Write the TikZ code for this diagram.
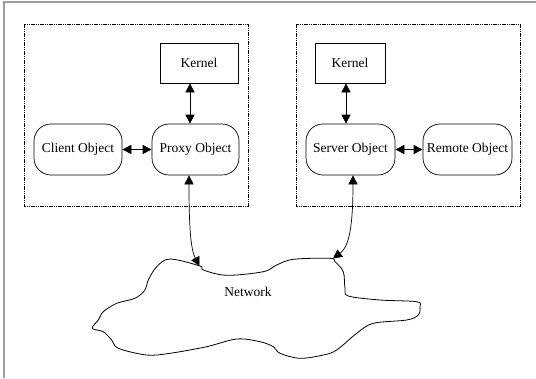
\documentclass[tikz,border=0pt]{standalone}
\usepackage{fontspec}
\setmainfont{Liberation Serif}
\usetikzlibrary{arrows.meta}
\begin{document}
\begin{tikzpicture}[x=1pt,y=-1pt,
  every node/.style={font=\fontsize{13.5}{15}\selectfont, inner sep=0pt},
  group/.style={draw, line width=0.8pt, dash pattern=on 4pt off 1pt on 1pt off 1pt on 1pt off 1pt},
  kernelbox/.style={draw, line width=0.7pt, minimum height=40pt},
  objbox/.style={draw, line width=0.7pt, rounded corners=17pt, minimum height=51pt, minimum width=88pt},
  link/.style={line width=0.7pt, {Triangle[length=9pt,width=9pt]}-{Triangle[length=9pt,width=9pt]}},
  cloud/.style={draw, line width=0.8pt}]
\useasboundingbox (0,0) rectangle (536,378);

% page frame (top and left edges only)
\draw[gray!75, line width=1.6pt] (4,378) -- (4,2) -- (536,2);

% client and server groups
\draw[group] (24,24) rectangle (248,206);
\draw[group] (296,24) rectangle (520.5,206);

% client side
\node[kernelbox, minimum width=78pt] (kl) at (199,63) {Kernel};
\node[objbox] (client) at (78,149.5) {Client Object};
\node[objbox, minimum width=87pt] (proxy) at (195.5,149.5) {Proxy Object};

% server side
\node[kernelbox, minimum width=70pt] (kr) at (350,63) {Kernel};
\node[objbox, minimum width=89pt] (server) at (350.5,149.5) {Server Object};
\node[objbox, minimum width=89pt] (remote) at (467.5,149.5) {Remote Object};

% network cloud
\draw[cloud] plot[smooth cycle, tension=0.55] coordinates {
  (200,266) (170,259) (156.7,266.7) (148.3,280) (145,290) (135,298.3)
  (116.7,303.3) (103.3,311.7) (98.3,320) (92.3,328.3) (103.3,331.7)
  (111.7,340) (118.3,348.3) (146.7,355) (170,353.3) (206.7,346.7)
  (236.7,339) (260,341.7) (273.3,346.7) (280,353.3) (300,358.3)
  (323.3,355) (336.7,350) (356.7,333.3) (373.3,323.3) (406.7,320)
  (418.3,315) (420,306.7) (416.7,301.7) (380,300) (348.3,296)
  (345,288.3) (343.3,271.7) (335,261.7) (330,258.3) (293.3,259.3)
  (276.7,265) (263.3,271.7) (226.7,275.3) (203.3,270)};
\node (net) at (248,292) {Network};
\coordinate (netl) at (199.5,266);
\coordinate (netr) at (333,258.5);

% connectors
\draw[link] ([xshift=-9pt]kl.south) -- ([xshift=-5.5pt]proxy.north);
\draw[link] (client.east) -- (proxy.west);
\draw[link] ([xshift=-4pt]kr.south) -- ([xshift=-4.5pt]server.north);
\draw[link] (server.east) -- (remote.west);
\draw[link] ([xshift=-6.5pt]proxy.south) .. controls (189,230) and (191,250) .. (netl);
\draw[link] ([xshift=2.5pt]server.south) .. controls (353,235) and (347,248) .. (netr);
\end{tikzpicture}
\end{document}
